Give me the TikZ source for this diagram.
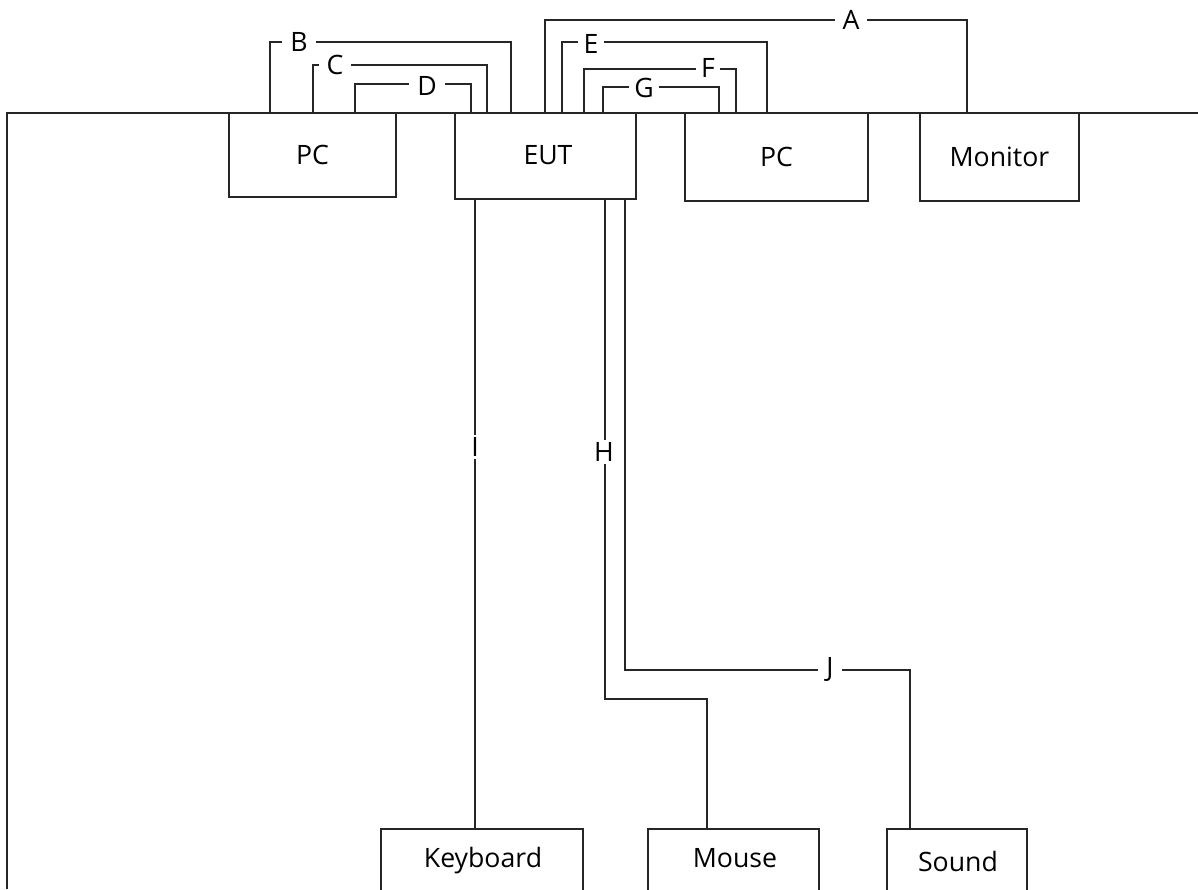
\documentclass[tikz,border=0pt]{standalone}
\usepackage{fontspec}
\setmainfont{Open Sans}
\usetikzlibrary{calc}
\begin{document}
\begin{tikzpicture}[x=0.75pt,y=-0.75pt,
  wire/.style={line width=1.1pt,draw=black!85},
  box/.style={draw=black!85,line width=1.1pt,inner sep=0pt,font=\fontsize{20}{23}\selectfont},
  lbl/.style={fill=white,inner xsep=6pt,inner ysep=3pt,font=\fontsize{20}{23}\selectfont}]
\useasboundingbox (0,0) rectangle (1198,889);
\clip (0,0) rectangle (1198,889);
% outer frame
\coordinate (FL) at (7,889);
\coordinate (FR) at (1200,113);
\draw[wire] (FL) |- (FR);
% top boxes
\node[box,minimum width=167*0.75pt,minimum height=84*0.75pt] (PCa) at (312.5,155) {PC};
\node[box,minimum width=181*0.75pt,minimum height=86*0.75pt] (EUT) at (545.5,156) {};
\node[font=\fontsize{20}{23}\selectfont] (EUTt) at (548,155) {EUT};
\node[box,minimum width=183*0.75pt,minimum height=88*0.75pt] (PCb) at (776.5,157) {PC};
\node[box,minimum width=159*0.75pt,minimum height=88*0.75pt] (Mon) at (999.5,157) {Monitor};
% bottom boxes
\node[box,minimum width=202*0.75pt,minimum height=64*0.75pt] (Key) at (482,861) {};
\node[font=\fontsize{20}{23}\selectfont] (Keyt) at (483,861) {Keyboard};
\node[box,minimum width=171*0.75pt,minimum height=64*0.75pt] (Mou) at (733.5,861) {};
\node[font=\fontsize{20}{23}\selectfont] (Mout) at (735,858) {Mouse};
\node[box,minimum width=140*0.75pt,minimum height=64*0.75pt] (Snd) at (957,861) {};
\node[font=\fontsize{20}{23}\selectfont] (Sndt) at (958,861) {Sound};
% top connectors
\draw[wire] (EUT.north -| 545,0) |- (967,20) -- (Mon.north -| 967,0);
\node[lbl] (lA) at (851,20) {A};
\draw[wire] (PCa.north -| 270,0) |- (511,42) -- (EUT.north -| 511,0);
\node[lbl] (lB) at (299,42) {B};
\draw[wire] (PCa.north -| 313,0) |- (487,65) -- (EUT.north -| 487,0);
\node[lbl] (lC) at (335,65) {C};
\draw[wire] (PCa.north -| 355,0) |- (471,84) -- (EUT.north -| 471,0);
\node[lbl] (lD) at (427,86) {D};
\draw[wire] (EUT.north -| 562,0) |- (767,42) -- (PCb.north -| 767,0);
\node[lbl,inner xsep=4pt] (lE) at (591,44) {E};
\draw[wire] (EUT.north -| 584,0) |- (736,69) -- (PCb.north -| 736,0);
\node[lbl,inner xsep=4pt] (lF) at (708,68) {F};
\draw[wire] (EUT.north -| 603,0) |- (719,87) -- (PCb.north -| 719,0);
\node[lbl,inner xsep=4pt] (lG) at (644,88) {G};
% bottom connectors
\draw[wire] (EUT.south -| 475,0) -- (Key.north -| 475,0);
\node[lbl,inner sep=2pt] (lI) at (475,447) {I};
\draw[wire] (EUT.south -| 605,0) |- (707,699) -- (Mou.north -| 707,0);
\node[lbl,inner sep=2pt] (lH) at (604,452) {H};
\draw[wire] (EUT.south -| 625,0) |- (910,670) -- (Snd.north -| 910,0);
\node[lbl] (lJ) at (830,669) {J};
\end{tikzpicture}
\end{document}
